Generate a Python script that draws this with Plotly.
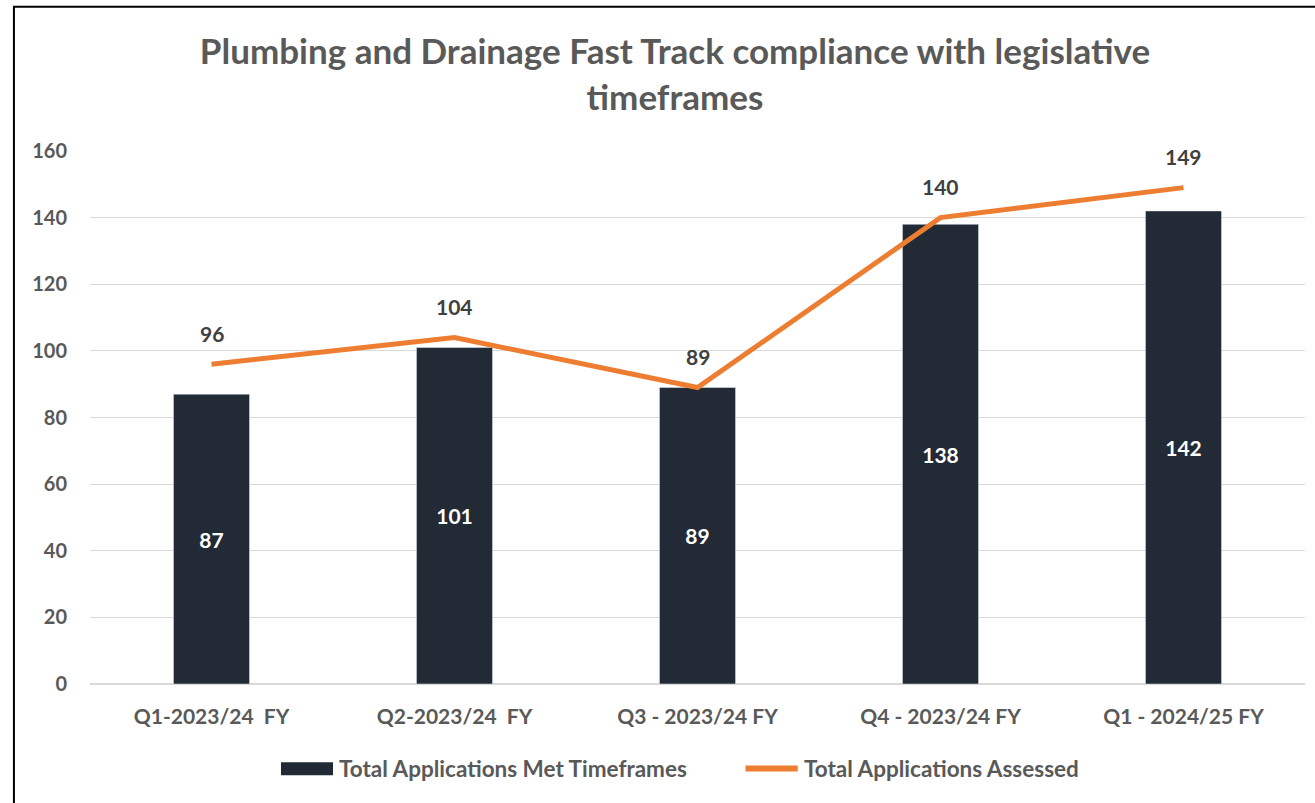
import plotly.graph_objects as go

categories = ["Q1-2023/24  FY", "Q2-2023/24  FY", "Q3 - 2023/24 FY", "Q4 - 2023/24 FY", "Q1 - 2024/25 FY"]
met_timeframes = [87, 101, 89, 138, 142]
assessed = [96, 104, 89, 140, 149]
y_ticks = [0, 20, 40, 60, 80, 100, 120, 140, 160]
series_names = ["Total Applications Met Timeframes", "Total Applications Assessed"]

FONT = "Lato"
GREY = "#595959"
BAR_COLOR = "#222A35"
LINE_COLOR = "#ED7D31"

fig = go.Figure()
fig.add_trace(go.Bar(
    x=categories, y=met_timeframes, name=series_names[0],
    marker=dict(color=BAR_COLOR),
    text=[str(v) for v in met_timeframes], textposition="inside",
    insidetextanchor="middle",
    textfont=dict(color="white", size=21, family=FONT, weight="bold"),
))
fig.add_trace(go.Scatter(
    x=categories, y=assessed, name=series_names[1],
    mode="lines", line=dict(color=LINE_COLOR, width=5),
))
for c, v in zip(categories, assessed):
    fig.add_annotation(x=c, y=v, text=str(v), showarrow=False, yshift=31,
                       font=dict(size=21, color="#404040", family=FONT, weight="bold"))

# outer border (chart area frame)
fig.add_shape(type="rect", xref="paper", yref="paper",
              x0=-0.0626, x1=1.02, y0=-0.3, y1=1.2705,
              line=dict(color="black", width=2), fillcolor="rgba(0,0,0,0)")

# custom legend
fig.add_shape(type="rect", xref="paper", yref="paper",
              x0=0.1572, x1=0.2, y0=-0.1713, y1=-0.1469,
              line=dict(width=0), fillcolor=BAR_COLOR)
fig.add_annotation(xref="paper", yref="paper", x=0.2033, y=-0.1587, xanchor="left", yanchor="middle",
                   text=series_names[0], showarrow=False,
                   font=dict(size=22.5, color=GREY, family=FONT, weight="bold"))
fig.add_shape(type="line", xref="paper", yref="paper",
              x0=0.5395, x1=0.5825, y0=-0.1587, y1=-0.1587,
              line=dict(color=LINE_COLOR, width=6))
fig.add_annotation(xref="paper", yref="paper", x=0.5861, y=-0.1587, xanchor="left", yanchor="middle",
                   text=series_names[1], showarrow=False,
                   font=dict(size=22.5, color=GREY, family=FONT, weight="bold"))

fig.update_layout(
    width=1315, height=803,
    margin=dict(l=90, r=10, t=151, b=119),
    paper_bgcolor="white", plot_bgcolor="white",
    font=dict(family=FONT, color=GREY),
    title=dict(text="Plumbing and Drainage Fast Track compliance with legislative<br>timeframes",
               x=0.5133, xanchor="center", y=0.920, yanchor="middle",
               font=dict(size=35, color=GREY, family=FONT, weight="bold")),
    bargap=0.687,
    showlegend=False,
    xaxis=dict(showgrid=False, showline=True, linecolor="#D9D9D9", linewidth=1,
               tickfont=dict(size=21, color=GREY, family=FONT, weight="bold"),
               ticks="", ticklabelstandoff=14),
    yaxis=dict(range=[0, 160], tickvals=y_ticks, showgrid=True, gridcolor="#D9D9D9",
               gridwidth=1, zeroline=True, zerolinecolor="#D9D9D9",
               tickfont=dict(size=20, color=GREY, family=FONT, weight="bold"),
               ticks="", ticklabelstandoff=22),
)

fig.write_html("out.html", config={"displayModeBar": False},
               post_script="document.body.style.margin='0';")
